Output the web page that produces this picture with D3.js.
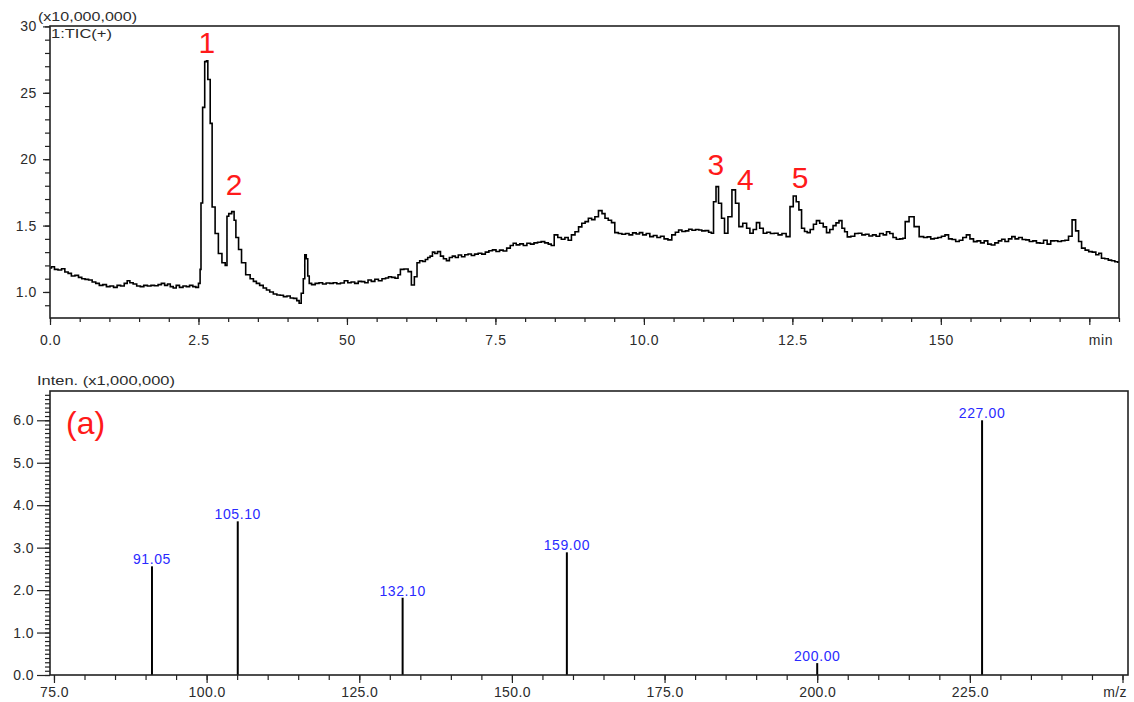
<!DOCTYPE html>
<html>
<head>
<meta charset="utf-8">
<script src="https://cdn.jsdelivr.net/npm/d3@7"></script>
<style>
  html, body { margin: 0; padding: 0; background: #fff; }
  svg { display: block; font-family: "Liberation Sans", Arial, sans-serif; }
</style>
</head>
<body>
<svg id="chart" width="1134" height="702"></svg>
<script>
// ---------------- DATA ----------------
// Total ion chromatogram (retention time in min, signal in x10,000,000)
const ticTime = [
  0.00,0.05,0.10,0.17,0.22,0.28,0.33,0.39,0.45,0.51,0.56,0.62,0.68,0.74,0.80,0.86,0.92,0.98,1.04,1.10,
  1.16,1.22,1.28,1.32,1.37,1.43,1.49,1.55,1.61,1.67,1.73,1.79,1.85,1.90,1.96,2.00,2.05,2.10,2.15,2.21,
  2.27,2.32,2.38,2.43,2.48,2.52,2.535,2.55,2.59,2.62,2.65,2.665,2.685,2.71,2.75,2.81,2.86,2.93,2.97,2.99,
  3.03,3.09,3.11,3.15,3.20,3.25,3.34,3.40,3.45,3.50,3.56,3.62,3.67,3.73,3.79,3.85,3.90,3.96,4.02,4.07,
  4.13,4.18,4.21,4.25,4.28,4.30,4.33,4.35,4.38,4.43,4.50,4.56,4.62,4.68,4.74,4.80,4.86,4.92,4.99,5.04,
  5.10,5.16,5.22,5.27,5.33,5.38,5.44,5.50,5.56,5.62,5.68,5.72,5.78,5.84,5.88,5.92,6.00,6.06,6.11,6.16,
  6.20,6.25,6.30,6.34,6.38,6.42,6.46,6.50,6.55,6.60,6.65,6.70,6.75,6.80,6.85,6.90,6.96,7.01,7.07,7.12,
  7.18,7.24,7.30,7.36,7.42,7.48,7.54,7.60,7.66,7.72,7.78,7.82,7.88,7.94,8.00,8.06,8.12,8.18,8.24,8.30,
  8.36,8.42,8.46,8.52,8.58,8.64,8.70,8.75,8.81,8.87,8.93,8.98,9.04,9.09,9.15,9.20,9.27,9.32,9.37,9.43,
  9.48,9.54,9.60,9.66,9.72,9.78,9.84,9.90,9.95,10.01,10.07,10.13,10.19,10.25,10.31,10.37,10.44,10.50,10.56,10.61,
  10.67,10.73,10.78,10.84,10.90,10.95,11.00,11.06,11.12,11.15,11.195,11.234,11.28,11.335,11.38,11.45,11.515,11.57,11.63,11.70,
  11.76,11.81,11.87,11.92,11.98,12.04,12.10,12.16,12.23,12.29,12.36,12.43,12.49,12.54,12.59,12.63,12.68,12.73,12.77,12.83,
  12.88,12.93,12.99,13.05,13.10,13.16,13.21,13.26,13.31,13.36,13.40,13.45,13.52,13.58,13.64,13.70,13.76,13.82,13.88,13.94,
  14.00,14.06,14.11,14.17,14.22,14.28,14.34,14.38,14.42,14.51,14.59,14.68,14.74,14.80,14.86,14.92,14.98,15.04,15.10,15.16,
  15.22,15.28,15.34,15.40,15.46,15.52,15.58,15.64,15.70,15.76,15.82,15.88,15.94,16.00,16.05,16.11,16.17,16.22,16.28,16.34,
  16.40,16.46,16.52,16.58,16.64,16.70,16.76,16.82,16.88,16.94,17.00,17.06,17.12,17.18,17.24,17.30,17.34,17.40,17.46,17.52,
  17.58,17.64,17.68,17.73,17.79,17.85,17.90,17.96,18.00];
const ticSignal = [
  1.18,1.19,1.17,1.165,1.175,1.15,1.14,1.12,1.125,1.11,1.10,1.095,1.09,1.075,1.065,1.05,1.055,1.04,1.045,1.035,
  1.05,1.045,1.065,1.085,1.07,1.06,1.045,1.04,1.05,1.045,1.05,1.047,1.055,1.065,1.05,1.06,1.04,1.03,1.05,1.035,
  1.045,1.04,1.05,1.04,1.035,1.065,1.17,1.67,2.39,2.735,2.74,2.60,2.60,2.27,1.64,1.44,1.29,1.22,1.20,1.57,
  1.59,1.605,1.54,1.41,1.32,1.22,1.13,1.10,1.08,1.065,1.05,1.03,1.015,1.00,0.985,0.977,0.975,0.965,0.97,0.955,
  0.952,0.935,0.915,0.99,1.10,1.28,1.25,1.12,1.065,1.055,1.065,1.07,1.06,1.068,1.065,1.07,1.062,1.068,1.085,1.07,
  1.075,1.065,1.08,1.078,1.07,1.09,1.08,1.096,1.085,1.10,1.105,1.115,1.11,1.103,1.13,1.17,1.173,1.153,1.053,1.115,
  1.22,1.235,1.23,1.245,1.26,1.27,1.30,1.29,1.304,1.27,1.25,1.236,1.26,1.27,1.26,1.279,1.265,1.28,1.286,1.275,
  1.285,1.292,1.285,1.30,1.31,1.317,1.305,1.315,1.309,1.33,1.35,1.367,1.355,1.362,1.35,1.367,1.36,1.37,1.375,1.379,
  1.37,1.36,1.35,1.43,1.41,1.397,1.41,1.39,1.43,1.454,1.49,1.518,1.53,1.555,1.545,1.567,1.613,1.59,1.555,1.54,
  1.522,1.447,1.44,1.435,1.44,1.43,1.445,1.437,1.447,1.43,1.44,1.417,1.425,1.41,1.42,1.40,1.392,1.43,1.45,1.467,
  1.455,1.46,1.472,1.465,1.47,1.467,1.46,1.462,1.45,1.442,1.68,1.793,1.668,1.555,1.442,1.567,1.769,1.668,1.492,1.518,
  1.48,1.442,1.47,1.522,1.48,1.442,1.45,1.44,1.442,1.43,1.44,1.417,1.643,1.723,1.68,1.618,1.48,1.455,1.447,1.47,
  1.51,1.537,1.518,1.49,1.447,1.47,1.50,1.52,1.537,1.48,1.454,1.415,1.42,1.44,1.442,1.43,1.435,1.422,1.43,1.42,
  1.44,1.43,1.454,1.44,1.41,1.397,1.40,1.405,1.53,1.567,1.492,1.417,1.41,1.415,1.40,1.405,1.41,1.42,1.43,1.40,
  1.395,1.38,1.39,1.41,1.43,1.40,1.379,1.385,1.37,1.385,1.36,1.354,1.37,1.385,1.397,1.38,1.40,1.417,1.40,1.41,
  1.395,1.392,1.38,1.385,1.37,1.367,1.39,1.36,1.385,1.386,1.38,1.386,1.39,1.42,1.543,1.46,1.38,1.33,1.315,1.304,
  1.30,1.28,1.292,1.254,1.25,1.24,1.235,1.228,1.225];

// Peak numbers (anchor in time / signal units)
const peakLabels = ["1","2","3","4","5"];
const peakLabelTime = [2.64,3.10,11.21,11.71,12.63];
const peakLabelSignal = [2.80,1.73,1.88,1.77,1.78];

// TIC axis ticks
const ticXTicks = [0,2.5,5,7.5,10,12.5,15,17.5];
const ticXTickLabels = ["0.0","2.5","50","7.5","10.0","12.5","150","min"];
const ticYTicks = [1.0,1.5,2.0,2.5,3.0];
const ticYTickLabels = ["1.0","1.5","20","25","30"];

// Mass spectrum (a): m/z and intensity (x1,000,000)
const mzValues = [91.05,105.10,132.10,159.00,200.00,227.00];
const mzIntensity = [2.56,3.62,1.82,2.89,0.28,6.00];
const mzLabels = ["91.05","105.10","132.10","159.00","200.00","227.00"];

const msXTicks = [75,100,125,150,175,200,225,250];
const msXTickLabels = ["75.0","100.0","125.0","150.0","175.0","200.0","225.0","m/z"];
const msYTicks = [0,1,2,3,4,5,6];
const msYTickLabels = ["0.0","1.0","2.0","3.0","4.0","5.0","6.0"];

// ---------------- DRAW ----------------
const svg = d3.select("#chart");
const axisColor = "#222";
const textColor = "#2b2b2b";

function styleAxis(g) {
  g.select(".domain").remove();
  g.selectAll("line").attr("stroke", axisColor).attr("stroke-width", 1.2);
  g.selectAll("text").attr("fill", textColor);
}

// ===== TOP: TIC =====
const tx = d3.scaleLinear().domain([0, 18]).range([50, 1119]);
const ty = d3.scaleLinear().domain([0.804, 3.003]).range([318, 26]);

// minor ticks
svg.append("g").attr("transform", "translate(0,318)")
  .call(d3.axisBottom(tx).tickValues(d3.range(0, 18.01, 0.5)).tickSize(4).tickFormat(""))
  .call(styleAxis);
svg.append("g").attr("transform", "translate(50,0)")
  .call(d3.axisLeft(ty).tickValues(d3.range(0.9, 3.001, 0.1)).tickSize(5).tickFormat(""))
  .call(styleAxis);
// major ticks
svg.append("g").attr("transform", "translate(0,318)")
  .call(d3.axisBottom(tx).tickValues(ticXTicks).tickSize(7).tickPadding(10)
    .tickFormat((d, i) => ticXTickLabels[i]))
  .call(styleAxis)
  .call(g => g.selectAll("text").attr("font-size", 14).attr("letter-spacing", 0.6))
  .call(g => g.selectAll("text").filter(d => d === 17.5).attr("text-anchor", "start").attr("x", -1));
svg.append("g").attr("transform", "translate(50,0)")
  .call(d3.axisLeft(ty).tickValues(ticYTicks).tickSize(7).tickPadding(6)
    .tickFormat((d, i) => ticYTickLabels[i]))
  .call(styleAxis)
  .call(g => g.selectAll("text").attr("font-size", 14).attr("letter-spacing", 0.6));

// trace
const tic = ticTime.map((t, i) => [t, ticSignal[i]]);
svg.append("path")
  .datum(tic)
  .attr("fill", "none")
  .attr("stroke", "#000")
  .attr("stroke-width", 1.6)
  .attr("stroke-linejoin", "miter")
  .attr("d", d3.line().x(d => tx(d[0])).y(d => ty(d[1])).curve(d3.curveStep));

// frame
svg.append("rect")
  .attr("x", tx.range()[0]).attr("y", ty.range()[1])
  .attr("width", tx.range()[1] - tx.range()[0])
  .attr("height", ty.range()[0] - ty.range()[1])
  .attr("fill", "none").attr("stroke", axisColor).attr("stroke-width", 1.6);

// header texts
svg.append("text").attr("x", 38).attr("y", 21)
  .attr("font-size", 13).attr("fill", textColor)
  .attr("textLength", 99).attr("lengthAdjust", "spacingAndGlyphs")
  .text("(x10,000,000)");
svg.append("text").attr("x", 51).attr("y", 38)
  .attr("font-size", 13).attr("fill", textColor)
  .attr("textLength", 61).attr("lengthAdjust", "spacingAndGlyphs")
  .text("1:TIC(+)");

// peak numbers
svg.append("g").selectAll("text")
  .data(peakLabels)
  .join("text")
  .attr("x", (d, i) => tx(peakLabelTime[i]))
  .attr("y", (d, i) => ty(peakLabelSignal[i]))
  .attr("text-anchor", "middle")
  .attr("font-size", 30)
  .attr("fill", "#ff1a1a")
  .text(d => d);

// ===== BOTTOM: mass spectrum =====
const mx = d3.scaleLinear().domain([74.35, 250.9]).range([50, 1128]);
const my = d3.scaleLinear().domain([0, 6.69]).range([675, 391]);

svg.append("g").attr("transform", "translate(0,675)")
  .call(d3.axisBottom(mx).tickValues(d3.range(75, 250.01, 5)).tickSize(5).tickFormat(""))
  .call(styleAxis);
svg.append("g").attr("transform", "translate(50,0)")
  .call(d3.axisLeft(my).tickValues(d3.range(0, 6.69, 0.1)).tickSize(5).tickFormat(""))
  .call(styleAxis);
svg.append("g").attr("transform", "translate(0,675)")
  .call(d3.axisBottom(mx).tickValues(msXTicks).tickSize(8).tickPadding(4)
    .tickFormat((d, i) => msXTickLabels[i]))
  .call(styleAxis)
  .call(g => g.selectAll("text").attr("font-size", 14).attr("letter-spacing", 0.4))
  .call(g => g.selectAll("text").filter(d => d === 250).attr("text-anchor", "end").attr("x", 4));
svg.append("g").attr("transform", "translate(50,0)")
  .call(d3.axisLeft(my).tickValues(msYTicks).tickSize(13).tickPadding(3)
    .tickFormat((d, i) => msYTickLabels[i]))
  .call(styleAxis)
  .call(g => g.selectAll("text").attr("font-size", 14).attr("letter-spacing", 0.4));

// sticks
svg.append("g").selectAll("line")
  .data(mzValues)
  .join("line")
  .attr("x1", d => mx(d)).attr("x2", d => mx(d))
  .attr("y1", my(0))
  .attr("y2", (d, i) => my(mzIntensity[i]))
  .attr("stroke", "#000").attr("stroke-width", 2);

// stick labels
svg.append("g").selectAll("text")
  .data(mzLabels)
  .join("text")
  .attr("x", (d, i) => mx(mzValues[i]))
  .attr("y", (d, i) => my(mzIntensity[i]) - 2)
  .attr("text-anchor", "middle")
  .attr("font-size", 14)
  .attr("letter-spacing", 0.6)
  .attr("fill", "#2a2aff")
  .text(d => d);

// frame
svg.append("rect")
  .attr("x", mx.range()[0]).attr("y", my.range()[1])
  .attr("width", mx.range()[1] - mx.range()[0])
  .attr("height", my.range()[0] - my.range()[1])
  .attr("fill", "none").attr("stroke", axisColor).attr("stroke-width", 1.6);

svg.append("text").attr("x", 37).attr("y", 385)
  .attr("font-size", 13).attr("fill", textColor)
  .attr("textLength", 138).attr("lengthAdjust", "spacingAndGlyphs")
  .text("Inten. (x1,000,000)");

svg.append("text").attr("x", 66).attr("y", 434)
  .attr("font-size", 32).attr("fill", "#ff1a1a")
  .text("(a)");
</script>
</body>
</html>
